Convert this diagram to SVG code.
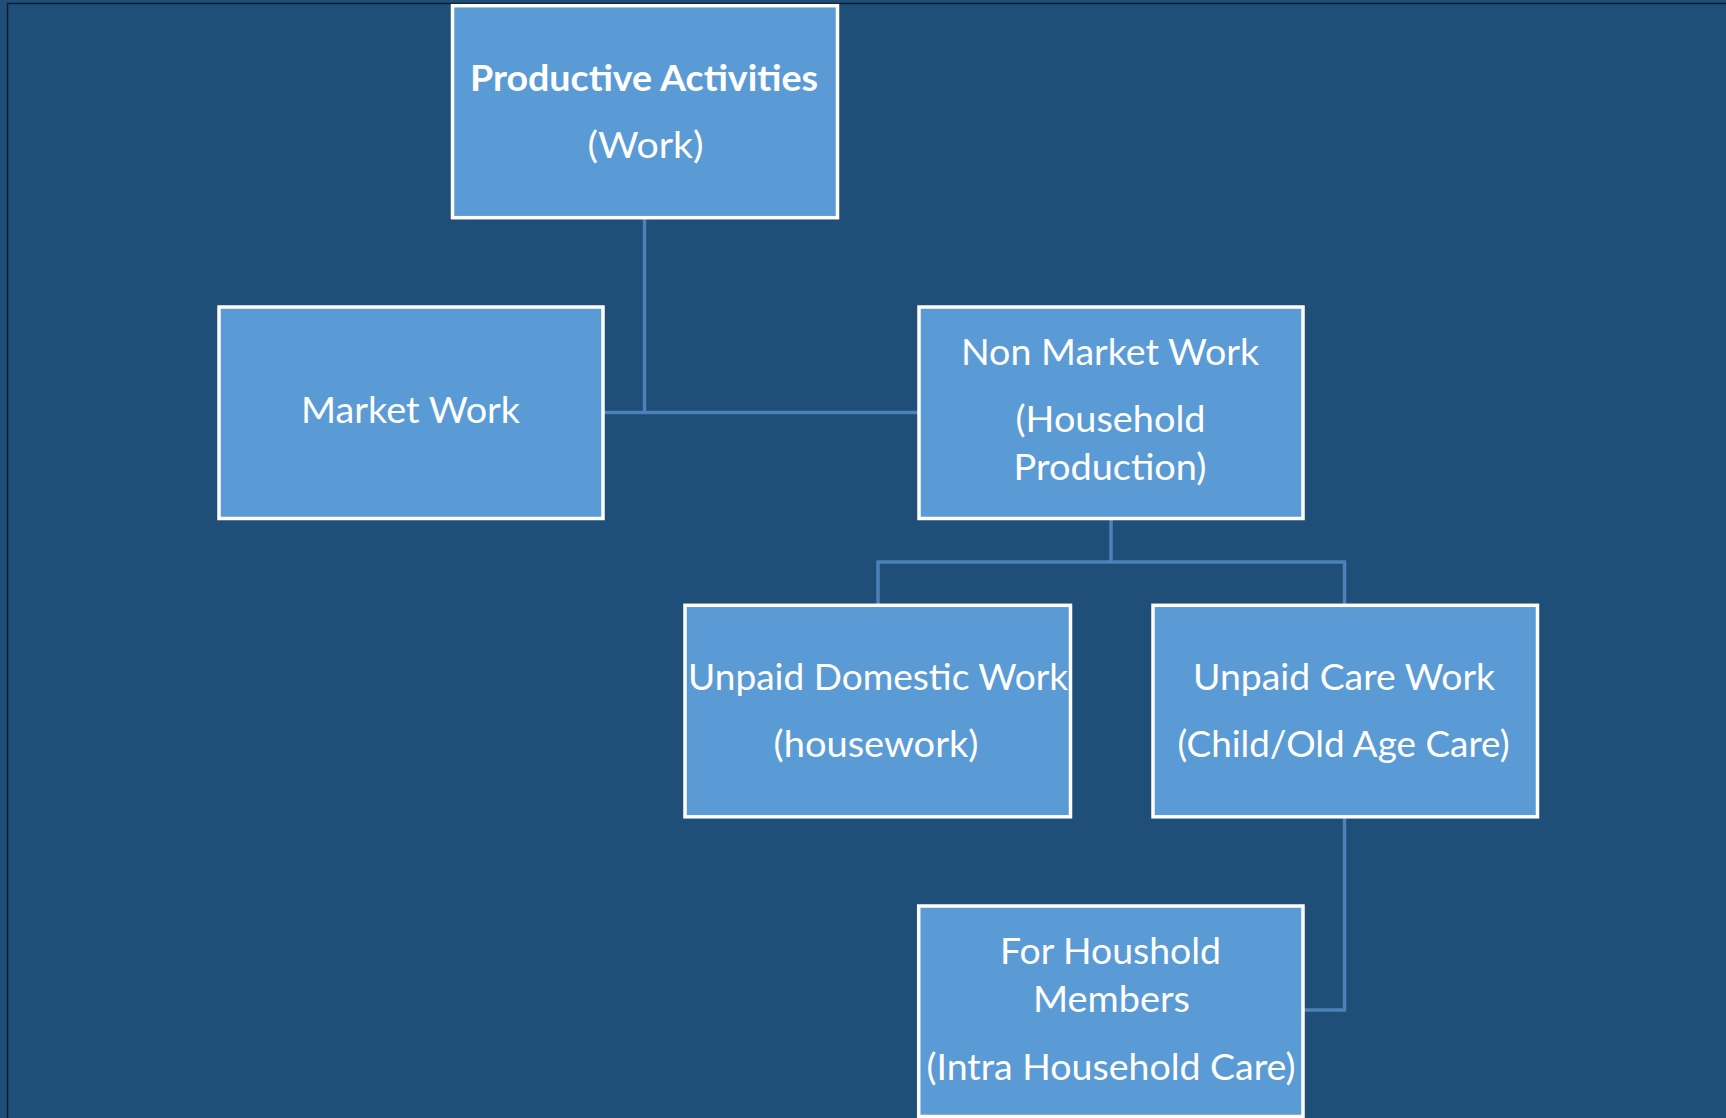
<svg xmlns="http://www.w3.org/2000/svg" width="1726" height="1118" viewBox="0 0 1726 1118">
  <style>
    .node rect { fill: #5B9BD5; stroke: #FFFFFF; stroke-width: 3.5; }
    .node text { fill: #FFFFFF; font-family: Lato, "Open Sans", "Liberation Sans", sans-serif; font-size: 37px; text-anchor: middle; }
    .node text.bold { font-weight: bold; }
    .edges path { fill: none; stroke: #4C81B9; stroke-width: 3.5; }
  </style>

  <!-- page background and frame edges -->
  <rect x="0" y="0" width="1726" height="1118" fill="#1F4E79"/>
  <path d="M7.5 1118 V3.5 H1726" fill="none" stroke="#0A1E33" stroke-width="1.5"/>

  <!-- connectors -->
  <g id="edges" class="edges">
    <path id="e-root" d="M644.5 219 V412.5 M604 412.5 H918"/>
    <path id="e-nonmarket" d="M1111 519 V562 M878 604 V562 H1344.5 V604"/>
    <path id="e-care" d="M1344.5 818 V1010 H1304"/>
  </g>

  <g id="node-productive" class="node">
    <rect x="452.5" y="5.7" width="385" height="212"/>
    <text class="bold" x="644" y="91" textLength="348" lengthAdjust="spacingAndGlyphs">Productive Activities</text>
    <text x="645.5" y="158" textLength="116" lengthAdjust="spacingAndGlyphs">(Work)</text>
  </g>

  <g id="node-market" class="node">
    <rect x="219" y="307" width="384" height="211.5"/>
    <text x="410.5" y="422.5" textLength="219" lengthAdjust="spacingAndGlyphs">Market Work</text>
  </g>

  <g id="node-nonmarket" class="node">
    <rect x="919" y="307" width="384" height="211.5"/>
    <text x="1110" y="365" textLength="298" lengthAdjust="spacingAndGlyphs">Non Market Work</text>
    <text x="1110.5" y="432" textLength="190" lengthAdjust="spacingAndGlyphs">(Household</text>
    <text x="1110" y="479.5" textLength="193" lengthAdjust="spacingAndGlyphs">Production)</text>
  </g>

  <g id="node-domestic" class="node">
    <rect x="685" y="605.3" width="385.5" height="211.5"/>
    <text x="878" y="690" textLength="380" lengthAdjust="spacingAndGlyphs">Unpaid Domestic Work</text>
    <text x="876" y="757" textLength="205" lengthAdjust="spacingAndGlyphs">(housework)</text>
  </g>

  <g id="node-care" class="node">
    <rect x="1153" y="605.3" width="384.5" height="211.5"/>
    <text x="1344" y="690" textLength="302" lengthAdjust="spacingAndGlyphs">Unpaid Care Work</text>
    <text x="1343.5" y="757" textLength="332" lengthAdjust="spacingAndGlyphs">(Child/Old Age Care)</text>
  </g>

  <g id="node-household-members" class="node">
    <rect x="918.7" y="906" width="384.3" height="210.5"/>
    <text x="1110.5" y="964" textLength="221" lengthAdjust="spacingAndGlyphs">For Houshold</text>
    <text x="1111.5" y="1012" textLength="157" lengthAdjust="spacingAndGlyphs">Members</text>
    <text x="1111" y="1080" textLength="369" lengthAdjust="spacingAndGlyphs">(Intra Household Care)</text>
  </g>
</svg>
